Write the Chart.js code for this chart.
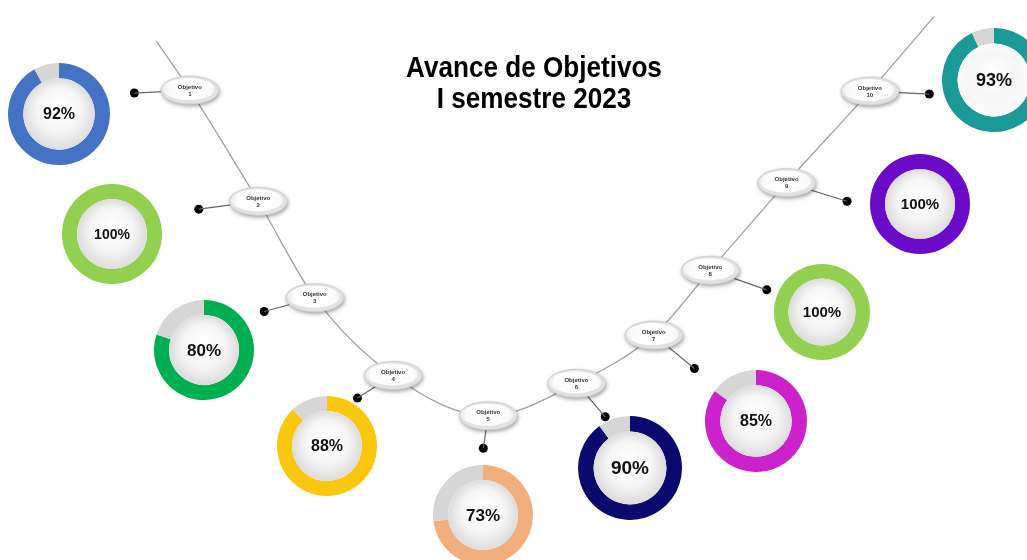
<!DOCTYPE html>
<html lang="es">
<head>
<meta charset="utf-8">
<title>Avance de Objetivos</title>
<script src="https://cdn.jsdelivr.net/npm/chart.js@4.4.1/dist/chart.umd.min.js"></script>
<style>
  html, body { margin: 0; padding: 0; background: #fff; }
  #wrap { position: relative; width: 1027px; height: 560px; overflow: hidden; }
  #main { position: absolute; left: 0; top: 0; }
  .donut { position: absolute; }
  #titulo {
    position: absolute; left: 384px; top: 52px; width: 300px;
    text-align: center; color: #000;
    font-family: "Liberation Sans", Arial, sans-serif;
    font-weight: bold; font-size: 29px; line-height: 31px;
    transform: scaleX(0.9); transform-origin: 150px 0;
  }
</style>
</head>
<body>
<div id="wrap">
  <canvas id="main" width="1027" height="560"></canvas>
  <div id="titulo">Avance de Objetivos<br>I semestre 2023</div>
</div>
<script>
// data
const objetivos = ['Objetivo 1', 'Objetivo 2', 'Objetivo 3', 'Objetivo 4', 'Objetivo 5',
                   'Objetivo 6', 'Objetivo 7', 'Objetivo 8', 'Objetivo 9', 'Objetivo 10'];
const avance = [92, 100, 80, 88, 73, 90, 85, 100, 100, 93];
const colores = ['#4472C4', '#92D050', '#00B050', '#F9C80E', '#F2AE7C',
                 '#0A0A6E', '#CC22CC', '#92D050', '#6B0AC9', '#1A9A97'];
const restoColor = '#D6D6D6';

// layout (pixels on the 1027x560 page)
const nodos = [[187, 87], [256, 200], [313, 298], [392, 377], [488, 418],
               [577, 385], [655, 336], [712, 270], [789, 181], [873, 88]];
const puntas = [[131, 90], [196, 208], [262, 312], [356, 400], [483, 451],
                [606, 419], [696, 370], [769, 290], [850, 200], [933, 91]];
const curvaIni = [153, 37];
const curvaFin = [938, 12];
const donas = [[59, 114, 51], [112, 234, 50], [204, 350, 50], [327, 446, 50], [483, 515, 50],
               [630, 468, 52], [756, 421, 51], [822, 312, 48], [920, 204, 50], [994, 80, 52]];
const tamLetra = [16, 14, 17, 16, 17, 19, 16, 15, 15, 18];

const pt = (p) => ({ x: p[0], y: p[1] });

// connectors: node -> dot, separated by gaps
const conectores = [];
nodos.forEach((n, i) => {
  conectores.push(pt(n), pt(puntas[i]), { x: puntas[i][0], y: null });
});

const elipses = {
  id: 'elipses',
  afterDatasetsDraw(chart) {
    const ctx = chart.ctx;
    const sx = chart.scales.x, sy = chart.scales.y;
    const rx = 29, ry = 14;
    nodos.forEach((n, i) => {
      const x = sx.getPixelForValue(n[0]);
      const y = sy.getPixelForValue(n[1]);
      ctx.save();
      ctx.shadowColor = 'rgba(0,0,0,0.4)';
      ctx.shadowBlur = 4;
      ctx.shadowOffsetX = 1;
      ctx.shadowOffsetY = 2;
      ctx.fillStyle = '#e2e2e2';
      ctx.beginPath();
      ctx.ellipse(x, y, rx, ry, 0, 0, Math.PI * 2);
      ctx.fill();
      ctx.restore();
      ctx.save();
      const g = ctx.createRadialGradient(x - 2, y - 3, 2, x, y, rx - 2);
      g.addColorStop(0, '#ffffff');
      g.addColorStop(0.75, '#fbfbfb');
      g.addColorStop(1, '#eeeeee');
      ctx.fillStyle = g;
      ctx.beginPath();
      ctx.ellipse(x - 1, y - 1, rx - 3, ry - 3, 0, 0, Math.PI * 2);
      ctx.fill();
      ctx.strokeStyle = '#cfcfcf';
      ctx.lineWidth = 1;
      ctx.beginPath();
      ctx.ellipse(x, y, rx, ry, 0, 0, Math.PI * 2);
      ctx.stroke();
      const partes = objetivos[i].split(' ');
      ctx.fillStyle = '#333';
      ctx.font = 'bold 6px "Liberation Sans", Arial, sans-serif';
      ctx.textAlign = 'center';
      ctx.textBaseline = 'middle';
      ctx.fillText(partes[0], x, y - 3);
      ctx.fillText(partes[1], x, y + 4);
      ctx.restore();
    });
  }
};

new Chart(document.getElementById('main'), {
  type: 'scatter',
  data: {
    datasets: [
      {
        label: 'curva',
        data: [pt(curvaIni), ...nodos.map(pt), pt(curvaFin)],
        showLine: true,
        borderColor: '#a0a0a0',
        borderWidth: 1.3,
        pointRadius: 0,
        cubicInterpolationMode: 'monotone',
        clip: false
      },
      {
        label: 'conectores',
        data: conectores,
        showLine: true,
        spanGaps: false,
        borderColor: '#666',
        borderWidth: 1.2,
        pointRadius: 0,
        clip: false
      },
      {
        label: 'puntos',
        data: puntas.map(pt),
        pointRadius: 4.5,
        pointBackgroundColor: '#000',
        pointBorderWidth: 0,
        clip: false
      }
    ]
  },
  options: {
    responsive: false,
    animation: false,
    events: [],
    layout: { padding: 0 },
    scales: {
      x: { type: 'linear', min: 0, max: 1027, display: false },
      y: { type: 'linear', min: 0, max: 560, reverse: true, display: false }
    },
    plugins: { legend: { display: false }, tooltip: { enabled: false } }
  },
  plugins: [elipses]
});

// one doughnut per objective
const wrap = document.getElementById('wrap');
avance.forEach((v, i) => {
  const [cx, cy, r] = donas[i];
  const c = document.createElement('canvas');
  c.className = 'donut';
  c.width = r * 2;
  c.height = r * 2;
  c.style.left = (cx - r) + 'px';
  c.style.top = (cy - r) + 'px';
  wrap.appendChild(c);

  const centro = {
    id: 'centro' + i,
    afterDatasetsDraw(chart) {
      const arc = chart.getDatasetMeta(0).data[0];
      const ctx = chart.ctx;
      const x = arc.x, y = arc.y, ri = arc.innerRadius;
      ctx.save();
      const g = ctx.createRadialGradient(x, y - ri * 0.3, 0, x, y, ri);
      g.addColorStop(0, '#ffffff');
      g.addColorStop(0.6, '#f6f6f6');
      g.addColorStop(1, i === 9 ? '#fafafa' : '#dcdcdc');
      ctx.fillStyle = g;
      ctx.beginPath();
      ctx.arc(x, y, ri, 0, Math.PI * 2);
      ctx.fill();
      ctx.fillStyle = '#111';
      ctx.font = 'bold ' + tamLetra[i] + 'px "Liberation Sans", Arial, sans-serif';
      ctx.textAlign = 'center';
      ctx.textBaseline = 'middle';
      ctx.fillText(v + '%', x, y + 1);
      ctx.restore();
    }
  };

  new Chart(c, {
    type: 'doughnut',
    data: {
      labels: ['Avance', 'Pendiente'],
      datasets: [{
        data: [v, 100 - v],
        backgroundColor: [colores[i], restoColor],
        borderWidth: 0,
        hoverOffset: 0
      }]
    },
    options: {
      responsive: false,
      animation: false,
      events: [],
      cutout: '70%',
      layout: { padding: 0 },
      plugins: { legend: { display: false }, tooltip: { enabled: false } }
    },
    plugins: [centro]
  });
});
</script>
</body>
</html>
